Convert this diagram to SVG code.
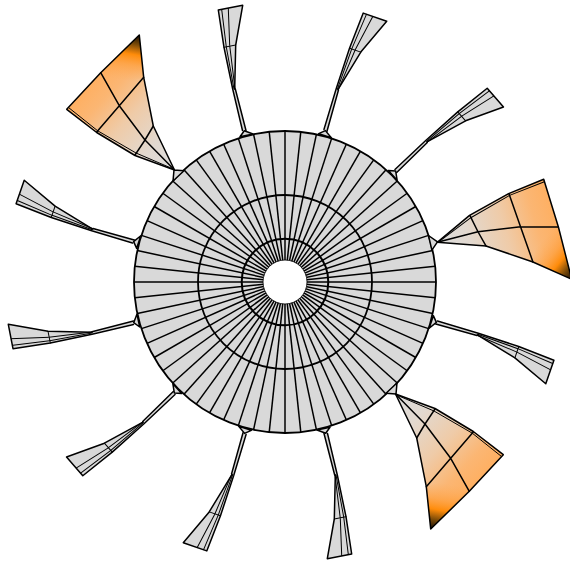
<svg xmlns="http://www.w3.org/2000/svg" width="570" height="563" viewBox="0 0 570 563">
<style>
.l{fill:none;stroke:#000;stroke-width:1.5;stroke-linejoin:round;stroke-linecap:round}
.t{stroke-width:1}
.g{fill:#d9d9d9}
.sp{stroke:#000;stroke-width:1.5}
</style>
<defs>
<linearGradient id="base" gradientUnits="userSpaceOnUse" x1="174" y1="170" x2="84" y2="84">
<stop offset="0" stop-color="#dcdcdc"/><stop offset=".25" stop-color="#e2d9d0"/><stop offset=".55" stop-color="#efcba8"/><stop offset=".8" stop-color="#fbb673"/><stop offset="1" stop-color="#ffae5e"/>
</linearGradient>
<linearGradient id="tip" gradientUnits="userSpaceOnUse" x1="142" y1="36" x2="134" y2="82">
<stop offset="0" stop-color="#1c1005"/><stop offset=".2" stop-color="#7a4a08"/><stop offset=".42" stop-color="#ff8c0a"/><stop offset=".65" stop-color="#ff9a30" stop-opacity=".55"/><stop offset="1" stop-color="#ffaa55" stop-opacity="0"/>
</linearGradient>
<g id="orange">
<path class="g" d="M174 170L184 170.7L173 181Z"/>
<path d="M174.5 170L153.3 126L143.7 77.3L139.3 35L100.7 72.7L66.7 109.3L96.7 132.5L135 155.5Z" fill="url(#base)"/>
<path d="M143.7 77.3L139.3 35L100.7 72.7L105 81L119 85Z" fill="url(#tip)"/>
<path class="l" d="M174.5 170L153.3 126L143.7 77.3L139.3 35L100.7 72.7L66.7 109.3L96.7 132.5L135 155.5Z"/>
<path class="l t" d="M68.5 107.5L97.7 130.8L136 153L174.5 169.5"/>
<path class="l" d="M100.7 72.7L119.3 105.7L145 140L174.5 170M96.7 132L119.3 105.7L143.7 77.3M135 155L145 140L153.3 126M174 170L184 170.7L173 181Z"/>
</g>
<g id="small">
<path class="g" d="M244.3 130.7L253 134L240 136.7Z"/>
<path class="g" d="M243.3 130.5L233.3 89L224 47.3L218.3 10L242.7 5.3L235.7 45L234.5 89L246 130.5Z"/>
<path class="l" d="M244.3 130.7L253 134L240 136.7Z"/>
<path class="l" d="M242.5 130.5L232.7 89L224 47.3L218.3 10L242.7 5.3L235.7 45L234.7 89"/>
<path class="l" d="M246 130.5L235.3 89"/>
<path class="l t" d="M234 89L226.3 47L221.7 9.5"/>
<path class="l t" d="M235 89L229.7 45.5L228.3 8.5"/>
<path class="l t" d="M224 47.3L235.7 45"/>
</g>
<line id="spoke" x1="285" y1="131" x2="285" y2="433" class="sp"/>
</defs>

<g id="hub">
<circle cx="285" cy="282" r="151" fill="#d9d9d9"/>
<g id="spokes">
<use href="#spoke"/>
<use href="#spoke" transform="rotate(6 285 282)"/>
<use href="#spoke" transform="rotate(12 285 282)"/>
<use href="#spoke" transform="rotate(18 285 282)"/>
<use href="#spoke" transform="rotate(24 285 282)"/>
<use href="#spoke" transform="rotate(30 285 282)"/>
<use href="#spoke" transform="rotate(36 285 282)"/>
<use href="#spoke" transform="rotate(42 285 282)"/>
<use href="#spoke" transform="rotate(48 285 282)"/>
<use href="#spoke" transform="rotate(54 285 282)"/>
<use href="#spoke" transform="rotate(60 285 282)"/>
<use href="#spoke" transform="rotate(66 285 282)"/>
<use href="#spoke" transform="rotate(72 285 282)"/>
<use href="#spoke" transform="rotate(78 285 282)"/>
<use href="#spoke" transform="rotate(84 285 282)"/>
<use href="#spoke" transform="rotate(90 285 282)"/>
<use href="#spoke" transform="rotate(96 285 282)"/>
<use href="#spoke" transform="rotate(102 285 282)"/>
<use href="#spoke" transform="rotate(108 285 282)"/>
<use href="#spoke" transform="rotate(114 285 282)"/>
<use href="#spoke" transform="rotate(120 285 282)"/>
<use href="#spoke" transform="rotate(126 285 282)"/>
<use href="#spoke" transform="rotate(132 285 282)"/>
<use href="#spoke" transform="rotate(138 285 282)"/>
<use href="#spoke" transform="rotate(144 285 282)"/>
<use href="#spoke" transform="rotate(150 285 282)"/>
<use href="#spoke" transform="rotate(156 285 282)"/>
<use href="#spoke" transform="rotate(162 285 282)"/>
<use href="#spoke" transform="rotate(168 285 282)"/>
<use href="#spoke" transform="rotate(174 285 282)"/>
</g>
<circle cx="285" cy="282" r="151" fill="none" stroke="#000" stroke-width="1.8"/>
<circle cx="285" cy="282" r="87" fill="none" stroke="#000" stroke-width="1.8"/>
<circle cx="285" cy="282" r="43.3" fill="none" stroke="#000" stroke-width="2"/>
<circle cx="285" cy="282" r="22" fill="#fff" stroke="#000" stroke-width=".8"/>
</g>

<g id="petal-1"><use href="#small"/></g>
<g id="petal-2"><use href="#small" transform="rotate(30 285 282)"/></g>
<g id="petal-3"><use href="#small" transform="rotate(60 285 282)"/></g>
<g id="petal-4"><use href="#orange" transform="rotate(120 285 282)"/></g>
<g id="petal-5"><use href="#small" transform="rotate(120 285 282)"/></g>
<g id="petal-6"><use href="#orange" transform="rotate(180 285 282)"/></g>
<g id="petal-7"><use href="#small" transform="rotate(180 285 282)"/></g>
<g id="petal-8"><use href="#small" transform="rotate(210 285 282)"/></g>
<g id="petal-9"><use href="#small" transform="rotate(240 285 282)"/></g>
<g id="petal-10"><use href="#small" transform="rotate(270 285 282)"/></g>
<g id="petal-11"><use href="#small" transform="rotate(300 285 282)"/></g>
<g id="petal-12"><use href="#orange"/></g>
</svg>
